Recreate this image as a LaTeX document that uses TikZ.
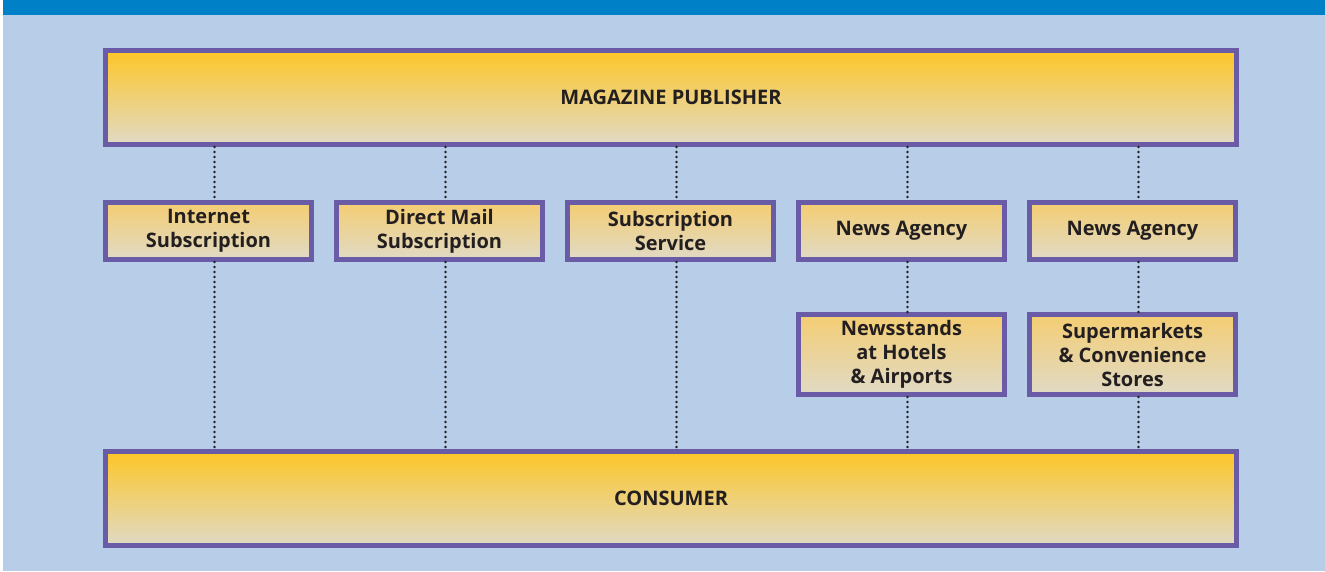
\documentclass[tikz,border=0pt]{standalone}
\usepackage{fontspec}
\setmainfont{Open Sans}
\usetikzlibrary{positioning}
\definecolor{bannerblue}{HTML}{0080C6}
\definecolor{paleblue}{HTML}{B7CDE8}
\definecolor{boxedge}{HTML}{6A5BA7}
\definecolor{goldtop}{HTML}{FDC627}
\definecolor{softgold}{HTML}{F4CD72}
\definecolor{sandbot}{HTML}{E0DAC6}
\definecolor{inkgray}{HTML}{231F20}

\tikzset{
  chanbox/.style={draw=boxedge, line width=5pt, top color=softgold, bottom color=sandbot,
    minimum width=206pt, minimum height=57pt, inner sep=0pt, align=center,
    font=\bfseries\fontsize{20}{24}\selectfont, text=inkgray},
  endbox/.style={chanbox, top color=goldtop, minimum width=1131pt, minimum height=94pt},
  dotline/.style={draw=inkgray, line width=2.8pt, line cap=round, dash pattern=on 0pt off 5pt}
}

\begin{document}
\begin{tikzpicture}[x=1pt, y=1pt, node distance=20pt]
  % background and banner
  \fill[white] (0,0) rectangle (1325,-571);
  \fill[paleblue] (3,-15) rectangle (1325,-571);
  \fill[bannerblue] (3,0) rectangle (1325,-15);
  \useasboundingbox (0,0) rectangle (1325,-571);

  \node (pub) [endbox] at (671,-97.5) {MAGAZINE PUBLISHER};
  \node (inet) [chanbox, below right=53pt and 0pt of pub.south west] {Internet\\Subscription};
  \node (mail) [chanbox, right=of inet] {Direct Mail\\Subscription};
  \node (serv) [chanbox, right=of mail] {Subscription\\Service};
  \node (agA) [chanbox, right=of serv] {News Agency};
  \node (agB) [chanbox, right=of agA] {News Agency};
  \node (stands) [chanbox, minimum height=80pt, below=50pt of agA] {Newsstands\\at Hotels\\\& Airports};
  \node (shops) [chanbox, minimum height=80pt, below=50pt of agB] {Supermarkets\\\& Convenience\\Stores};
  \node (cons) [endbox, below=302pt of pub] {CONSUMER};

  % dotted links
  \foreach \n in {inet,mail,serv,agA,agB}
    \draw[dotline] ([xshift=6pt]\n.north |- pub.south) -- ([xshift=6pt]\n.north);
  \foreach \n in {inet,mail,serv,stands,shops}
    \draw[dotline] ([xshift=6pt]\n.south) -- ([xshift=6pt]\n.south |- cons.north);
  \draw[dotline] ([xshift=6pt]agA.south) -- ([xshift=6pt]stands.north);
  \draw[dotline] ([xshift=6pt]agB.south) -- ([xshift=6pt]shops.north);
\end{tikzpicture}
\end{document}
